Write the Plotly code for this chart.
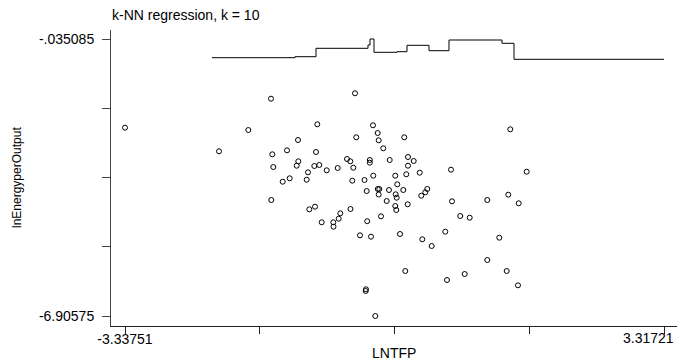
import plotly.graph_objects as go

# ---- data ----
lntfp = [-3.33751, -2.1770, -1.8152, -1.5350, -1.5189, -1.5066, -1.5313, -1.3905, -1.3374, -1.3041,
         -1.2177, -1.2016, -1.1979, -1.0942, -1.0782, -1.0621, -0.9918, -1.0004, -0.9387, -0.9794,
         -0.9634, -0.9090, -0.8473, -0.7658, -0.7634, -0.7115, -0.6992, -0.6794, -0.5967, -0.5559,
         -0.5535, -0.5313, -0.5189, -0.4979, -0.4819, -0.4362, -0.3806, -0.3621, -0.3658, -0.3535,
         -0.3473, -0.3152, -0.3152, -0.3004, -0.2757, -0.2720, -0.2473, -0.2177, -0.2053, -0.2164,
         -0.1979, -0.2053, -0.1769, -0.1485, -0.1065, -0.0782, -0.0695, -0.0004, 0.0046, 0.0169,
         -0.0004, 0.0120, 0.0243, 0.0577, 0.0984, 0.1107, 0.1231, 0.1354, 0.1527, 0.1564,
         0.1564, 0.2268, 0.3009, 0.3206, 0.3700, 0.3947, 0.3330, 0.4490, 0.6169, 0.6379,
         0.6873, 0.6996, 0.8021, 0.8564, 0.9182, 1.1355, 1.1355, 1.2836, 1.3750, 1.3947,
         1.4194, 1.5231, 1.5145, 1.6218]
ln_energy = [-2.2352, -2.8206, -2.2923, -1.5159, -2.8950, -3.2100, -4.0285, -3.5746, -2.7958, -3.4903,
             -3.1778, -2.5403, -3.0686, -3.5250, -3.3415, -4.2592, -4.1947, -3.1852, -3.1604, -2.8380,
             -2.1509, -4.5817, -3.2919, -4.5817, -4.6908, -3.2348, -4.4924, -4.3584, -3.0116, -3.0686,
             -4.2518, -3.5498, -3.2274, -1.3820, -2.4733, -4.9041, -3.5325, -6.2435, -6.2857, -3.8053,
             -4.5544, -3.0364, -3.1034, -4.9389, -2.1757, -3.4258, -6.90575, -2.3667, -2.5477, -3.7557,
             -3.7557, -3.8921, -4.4329, -2.7462, -4.0533, -3.7805, -3.0364, -3.4258, -3.8872, -3.9715,
             -4.1774, -4.2766, -3.6391, -4.8719, -3.7805, -2.4733, -5.7896, -3.3911, -4.1352, -2.9620,
             -3.1778, -3.0612, -3.3514, -3.9219, -3.8376, -3.7557, -5.0033, -5.1695, -4.8148, -6.0129,
             -3.2770, -4.0608, -4.4254, -5.8640, -4.4676, -4.0285, -5.5168, -4.9637, -5.7896, -3.8971,
             -2.2749, -4.1104, -6.1443, -3.3266]

knn_x = [-2.2634, -1.2387, -0.9794, -0.3374, -0.3127, -0.2633, 0.0206, 0.1441, 0.4157,
         0.6626, 1.3169, 1.4651, 3.31721]
knn_y = [-0.4989, -0.4741, -0.2658, -0.1839, -0.035085, -0.3650, -0.3501, -0.1914, -0.3253,
         -0.0599, -0.1417, -0.5386, -0.5386]

x_min, x_max = -3.33751, 3.31721
y_min, y_max = -6.90575, -0.035085
x_ticklabels = ["-3.33751", "", "", "", ""]
x_last_label = "3.31721"
y_ticklabels = ["-6.90575", "", "", "", "-.035085"]

title_text = "k-NN regression, k = 10"
x_title = "LNTFP"
y_title = "lnEnergyperOutput"

# ---- figure ----
W, H = 677, 363
L, R, T, B = 111, 0, 30, 37
pw, ph = W - L - R, H - T - B

xs = (x_max - x_min) / 539.0
ys = (y_max - y_min) / 277.0
x_range = [x_min - 14 * xs, x_max + 13 * xs]
y_range = [y_min - 10 * ys, y_max + 9 * ys]

x_tickvals = [x_min + i * (x_max - x_min) / 4 for i in range(5)]
y_tickvals = [y_min + i * (y_max - y_min) / 4 for i in range(5)]

font_family = "Liberation Sans, Arial, sans-serif"
FS = 14

fig = go.Figure()
fig.add_trace(go.Scatter(
    x=lntfp, y=ln_energy, mode="markers",
    marker=dict(symbol="circle-open", size=5, color="black", line=dict(width=1, color="black")),
    showlegend=False, hoverinfo="skip", cliponaxis=False))
fig.add_trace(go.Scatter(
    x=knn_x, y=knn_y, mode="lines", line=dict(color="black", width=1, shape="hv"),
    showlegend=False, hoverinfo="skip"))

fig.update_layout(
    width=W, height=H, autosize=False,
    margin=dict(l=L, r=R, t=T, b=B, pad=0, autoexpand=False),
    paper_bgcolor="white", plot_bgcolor="white",
    font=dict(family=font_family, size=FS, color="black"),
    title=dict(text=title_text, x=112 / W, xanchor="left", xref="container",
               y=1 - 15 / H, yanchor="middle", yref="container",
               font=dict(size=FS, family=font_family, color="black")),
    xaxis=dict(range=x_range, showgrid=False, zeroline=False, automargin=False,
               showline=True, linecolor="#222", linewidth=1, mirror=False,
               ticks="outside", ticklen=7, tickwidth=1, tickcolor="#222",
               tickvals=x_tickvals, ticktext=x_ticklabels, ticklabelstandoff=-7,
               ticklabeloverflow="allow", tickfont=dict(size=FS, family=font_family)),
    yaxis=dict(range=y_range, showgrid=False, zeroline=False, automargin=False,
               showline=True, linecolor="#444", linewidth=1,
               ticks="outside", ticklen=8, tickwidth=1, tickcolor="#444",
               tickvals=y_tickvals, ticktext=y_ticklabels, ticklabelstandoff=5,
               ticklabeloverflow="allow", tickfont=dict(size=FS, family=font_family)),
    annotations=[
        dict(text=x_last_label, xref="paper", yref="paper", x=(676 - L) / pw,
             y=-(338 - (T + ph)) / ph, xanchor="right", yanchor="middle", showarrow=False,
             font=dict(size=FS, family=font_family, color="black")),
        dict(text=x_title, xref="paper", yref="paper", x=0.5, y=-(353 - (T + ph)) / ph,
             xanchor="center", yanchor="middle", showarrow=False,
             font=dict(size=FS, family=font_family, color="black")),
        dict(text=y_title, xref="paper", yref="paper", x=(17 - L) / pw, y=0.5,
             xanchor="center", yanchor="middle", showarrow=False, textangle=-90,
             font=dict(size=12, family=font_family, color="black")),
    ],
)

fig.write_html("out.html")
